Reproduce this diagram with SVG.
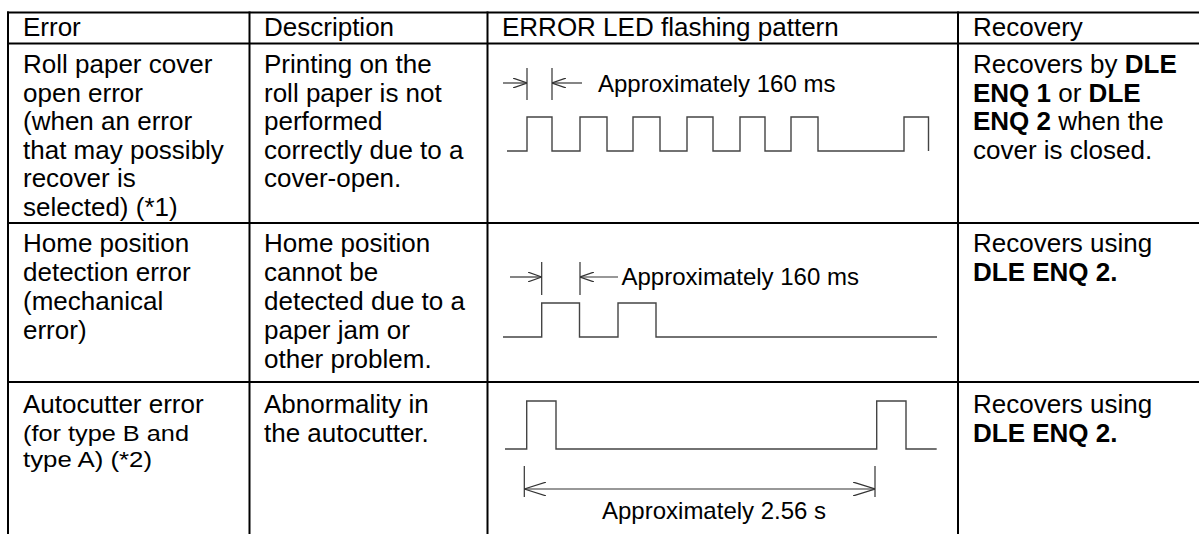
<svg xmlns="http://www.w3.org/2000/svg" width="1199" height="534" viewBox="0 0 1199 534">
<style>
text{font-family:"Liberation Sans",Arial,sans-serif;font-size:26px;fill:#000}
.b{font-weight:bold}
.lbl{font-size:24px}
.sm{font-size:22.5px}
.grid{stroke:#000;stroke-width:2;fill:none}
.wave{stroke:#444;stroke-width:1.4;fill:none}
.dim{stroke:#333;stroke-width:1.2;fill:none}
</style>
<defs>
<marker id="ah" viewBox="0 0 14 10" refX="14" refY="5" markerWidth="14" markerHeight="10" markerUnits="userSpaceOnUse" orient="auto-start-reverse">
<path d="M0,0 L14,5 L0,10" fill="none" stroke="#333" stroke-width="1.2"/>
</marker>
<marker id="ahL" viewBox="0 0 22 14" refX="22" refY="7" markerWidth="22" markerHeight="14" markerUnits="userSpaceOnUse" orient="auto-start-reverse">
<path d="M0,0 L22,7 L0,14" fill="none" stroke="#333" stroke-width="1.2"/>
</marker>
</defs>
<rect width="1199" height="534" fill="#fff"/>
<g id="grid" class="grid">
<path d="M7,12.5 H1199 M7,43.5 H1199 M7,223 H1199 M7,382 H1199"/>
<path d="M8,11.5 V534 M249.5,11.5 V534 M487.5,11.5 V534 M958,11.5 V534"/>
</g>
<g id="header">
<text x="23" y="36">Error</text>
<text x="264" y="36">Description</text>
<text x="502" y="36">ERROR LED flashing pattern</text>
<text x="973" y="36">Recovery</text>
</g>
<g id="row-cover-open">
<text x="23" y="73">Roll paper cover</text>
<text x="23" y="101.6">open error</text>
<text x="23" y="130.2">(when an error</text>
<text x="23" y="158.8">that may possibly</text>
<text x="23" y="187.4">recover is</text>
<text x="23" y="216">selected) (*1)</text>
<text x="264" y="73">Printing on the</text>
<text x="264" y="101.6">roll paper is not</text>
<text x="264" y="130.2">performed</text>
<text x="264" y="158.8">correctly due to a</text>
<text x="264" y="187.4">cover-open.</text>
<text x="973" y="73">Recovers by <tspan class="b">DLE</tspan></text>
<text x="973" y="101.6"><tspan class="b">ENQ 1</tspan> or <tspan class="b">DLE</tspan></text>
<text x="973" y="130.2"><tspan class="b">ENQ 2</tspan> when the</text>
<text x="973" y="158.8">cover is closed.</text>
</g>
<g id="row-home-position">
<text x="23" y="252">Home position</text>
<text x="23" y="281">detection error</text>
<text x="23" y="310">(mechanical</text>
<text x="23" y="339">error)</text>
<text x="264" y="252">Home position</text>
<text x="264" y="281">cannot be</text>
<text x="264" y="310">detected due to a</text>
<text x="264" y="339">paper jam or</text>
<text x="264" y="368">other problem.</text>
<text x="973" y="252">Recovers using</text>
<text x="973" y="281" class="b">DLE ENQ 2.</text>
</g>
<g id="row-autocutter">
<text x="23" y="413">Autocutter error</text>
<text x="23" y="441" class="sm" textLength="166" lengthAdjust="spacingAndGlyphs">(for type B and</text>
<text x="23" y="467" class="sm" textLength="129" lengthAdjust="spacingAndGlyphs">type A) (*2)</text>
<text x="264" y="413">Abnormality in</text>
<text x="264" y="442">the autocutter.</text>
<text x="973" y="413">Recovers using</text>
<text x="973" y="442" class="b">DLE ENQ 2.</text>
</g>
<g id="connectors">
<g id="pattern-cover-open">
<path class="wave" d="M507,151 H527 V117 H552 V151 H580 V117 H607 V151 H633 V117 H660 V151 H687 V117 H713 V151 H740 V117 H765 V151 H791 V117 H818 V151 H904 V117 H928.5 V151"/>
<path class="dim" d="M527,68 V100 M552,68 V100"/>
<path class="dim" d="M503,83 H527" marker-end="url(#ah)"/>
<path class="dim" d="M582,83 H552" marker-end="url(#ah)"/>
<text class="lbl" x="598" y="92">Approximately 160 ms</text>
</g>
<g id="pattern-home-position">
<path class="wave" d="M503,337 H541.7 V303 H579.5 V337 H618 V303 H656 V337 H937"/>
<path class="dim" d="M541.7,262 V295 M580,262 V295"/>
<path class="dim" d="M510,277 H541.7" marker-end="url(#ah)"/>
<path class="dim" d="M618,277 H580" marker-end="url(#ah)"/>
<text class="lbl" x="621.5" y="285">Approximately 160 ms</text>
</g>
<g id="pattern-autocutter">
<path class="wave" d="M505,449 H526.7 V401 H556 V449 H876.7 V401 H906 V449 H936.7"/>
<path class="dim" d="M524.3,466 V497 M875,466 V497"/>
<path class="dim" d="M524.3,489 H875" marker-start="url(#ahL)" marker-end="url(#ahL)"/>
<text class="lbl" x="602" y="519">Approximately 2.56 s</text>
</g>
</g>
</svg>
